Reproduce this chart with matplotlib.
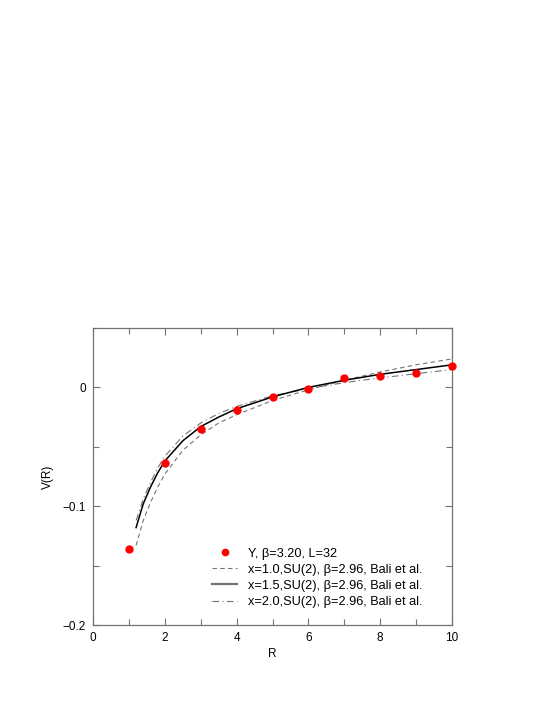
import matplotlib
matplotlib.use("Agg")
import matplotlib.pyplot as plt
from matplotlib.ticker import MultipleLocator
from matplotlib.legend_handler import HandlerLine2D

# | Data |---------------------------------------------------------------------------------------------------------------|
r_points = [1, 2, 3, 4, 5, 6, 7, 8, 9, 10]
v_points = [-0.136, -0.064, -0.035, -0.019, -0.0085, -0.001, 0.0075, 0.010, 0.0125, 0.018]

r_curve = [1.2, 1.4, 1.6, 1.8, 2.0, 2.5, 3.0, 3.5, 4.0, 5.0, 6.0, 7.0, 8.0, 9.0, 10.0]
v_x10 = [-0.133, -0.112, -0.097, -0.084, -0.073, -0.053, -0.040, -0.030, -0.023, -0.011, -0.002, 0.006, 0.013, 0.019, 0.024]
v_x15 = [-0.118, -0.098, -0.084, -0.072, -0.062, -0.045, -0.033, -0.025, -0.018, -0.008, 0.000, 0.006, 0.011, 0.015, 0.019]
v_x20 = [-0.112, -0.094, -0.080, -0.068, -0.058, -0.041, -0.030, -0.022, -0.016, -0.007, -0.001, 0.004, 0.008, 0.0115, 0.015]

labels = [
    "Y, \u03b2=3.20, L=32",
    "x=1.0,SU(2), \u03b2=2.96, Bali et al.",
    "x=1.5,SU(2), \u03b2=2.96, Bali et al.",
    "x=2.0,SU(2), \u03b2=2.96, Bali et al.",
]
# |--------------------------------------------------------------------------------------------------------------------|


class RightMarkerHandler(HandlerLine2D):
    # marker sits just past the right end of the handle box, like xmgrace does
    def get_xdata(self, legend, xdescent, ydescent, width, height, fontsize):
        xdata, _ = super().get_xdata(legend, xdescent, ydescent, width, height, fontsize)
        return xdata, [-xdescent + 1.12 * width]


plt.rcParams["font.family"] = ["Liberation Sans", "DejaVu Sans"]
plt.rcParams["font.size"] = 8.5

W, H = 545, 705
fig = plt.figure(figsize=(W / 100, H / 100), dpi=100)
ax = fig.add_axes([93 / W, 1 - 625 / H, 359 / W, 297 / H])

ax.plot(r_curve, v_x10, color="0.45", lw=0.8, dashes=(4, 3), label=labels[1], zorder=2)
ax.plot(r_curve, v_x15, color="black", lw=1.1, label=labels[2], zorder=3)
ax.plot(r_curve, v_x20, color="0.45", lw=0.8, dashes=(6, 3, 1, 3), label=labels[3], zorder=2)
pts, = ax.plot(r_points, v_points, "o", color="red", ms=5, mec="red", label=labels[0], zorder=4, clip_on=False)

ax.set_xlim(0, 10)
ax.set_ylim(-0.2, 0.05)
ax.xaxis.set_major_locator(MultipleLocator(2))
ax.xaxis.set_minor_locator(MultipleLocator(1))
ax.yaxis.set_minor_locator(MultipleLocator(0.05))
ax.set_yticks([-0.2, -0.1, 0])
ax.set_yticklabels(["\u22120.2", "\u22120.1", "0"])

ax.tick_params(which="both", direction="in", top=True, right=True, color="0.45", width=0.8)
ax.tick_params(which="major", length=5, pad=5)
ax.tick_params(which="minor", length=4)
for sp in ax.spines.values():
    sp.set_color("0.45")
    sp.set_linewidth(0.9)

ax.set_xlabel("R", labelpad=3)
ax.set_ylabel("V(R)", labelpad=6)

handles, labs = ax.get_legend_handles_labels()
order = [3, 0, 1, 2]
leg = ax.legend([handles[i] for i in order], [labs[i] for i in order], loc="lower right",
                bbox_to_anchor=(0.933, 0.040), borderaxespad=0,
                frameon=False, handlelength=1.96, handletextpad=0.86, labelspacing=0.32,
                markerscale=0.9, fontsize=9.2,
                handler_map={pts: RightMarkerHandler(numpoints=1)})
for line in leg.get_lines()[1:]:
    line.set_color("0.45")
leg.get_lines()[2].set_linewidth(1.6)

fig.savefig("out.png", dpi=100)
